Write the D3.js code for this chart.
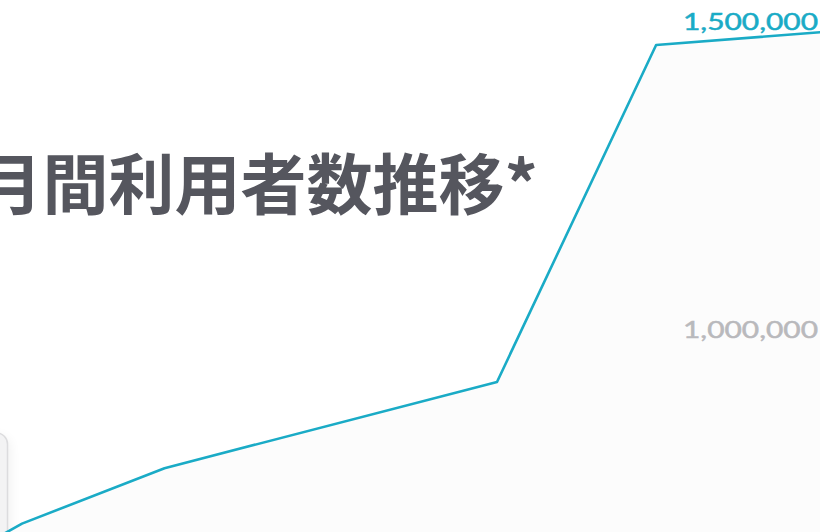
<!DOCTYPE html>
<html>
<head>
<meta charset="utf-8">
<script src="https://cdn.jsdelivr.net/npm/d3@7"></script>
<style>
  html, body { margin: 0; padding: 0; background: #ffffff; }
  svg { display: block; }
</style>
</head>
<body>
<script>
// Monthly active users over time (month index from the first reading)
const months = [-3, 0, 6, 20, 26.7, 34];
const users = [645000, 710000, 800000, 940000, 1487000, 1509000];
const tickValues = [1000000, 1500000];
const tickLabels = ["1,000,000", "1,500,000"];
const title = "月間利用者数推移*";

const W = 820, H = 532;
const svg = d3.select("body").append("svg")
  .attr("width", W).attr("height", H);

const defs = svg.append("defs");
const blur = defs.append("filter").attr("id", "cardShadow")
  .attr("x", "-50%").attr("y", "-50%").attr("width", "200%").attr("height", "200%");
blur.append("feGaussianBlur").attr("stdDeviation", 6);

const x = d3.scaleLinear().domain([0, 34]).range([22, 829.5]);
const y = d3.scaleLinear().domain([1000000, 1500000]).range([345, 37]);

// Card peeking in from the lower-left corner
svg.append("rect")
  .attr("x", -200).attr("y", 436).attr("width", 210).attr("height", 200)
  .attr("rx", 12).attr("fill", "#000").attr("opacity", 0.06)
  .attr("filter", "url(#cardShadow)");
svg.append("rect")
  .attr("x", -200).attr("y", 433).attr("width", 207.5).attr("height", 200)
  .attr("rx", 11).attr("fill", "#f3f3f4")
  .attr("stroke", "#dcdcde").attr("stroke-width", 1.5);

const pts = months.map((m, i) => ({ m, v: users[i] }));

// Faint fill under the line
svg.append("path")
  .datum(pts)
  .attr("fill", "#fcfcfc")
  .attr("d", d3.area().x(d => x(d.m)).y0(H + 10).y1(d => y(d.v)));

// Title
svg.append("text")
  .attr("x", 538).attr("y", 209)
  .attr("text-anchor", "end")
  .attr("font-family", "'Noto Sans CJK JP', 'Noto Sans CJK SC', sans-serif")
  .attr("font-weight", 700)
  .attr("font-size", 66)
  .attr("fill", "#55565e")
  .text(title);

// User count line
svg.append("path")
  .datum(pts)
  .attr("fill", "none")
  .attr("stroke", "#1aabc6")
  .attr("stroke-width", 2.6)
  .attr("stroke-linejoin", "round")
  .attr("d", d3.line().x(d => x(d.m)).y(d => y(d.v)));

// Level labels
svg.selectAll("text.lvl")
  .data(tickValues)
  .join("text")
  .attr("class", "lvl")
  .attr("x", 683)
  .attr("y", d => y(d) - 7.5)
  .attr("textLength", 135)
  .attr("lengthAdjust", "spacingAndGlyphs")
  .attr("font-family", "Lato, 'Open Sans', sans-serif")
  .attr("font-size", 23)
  .attr("font-weight", 400)
  .attr("stroke-width", 0.5)
  .attr("fill", d => d === 1500000 ? "#1aabc6" : "#b9b9bc")
  .attr("stroke", d => d === 1500000 ? "#1aabc6" : "#b9b9bc")
  .text((d, i) => tickLabels[i]);
</script>
</body>
</html>
